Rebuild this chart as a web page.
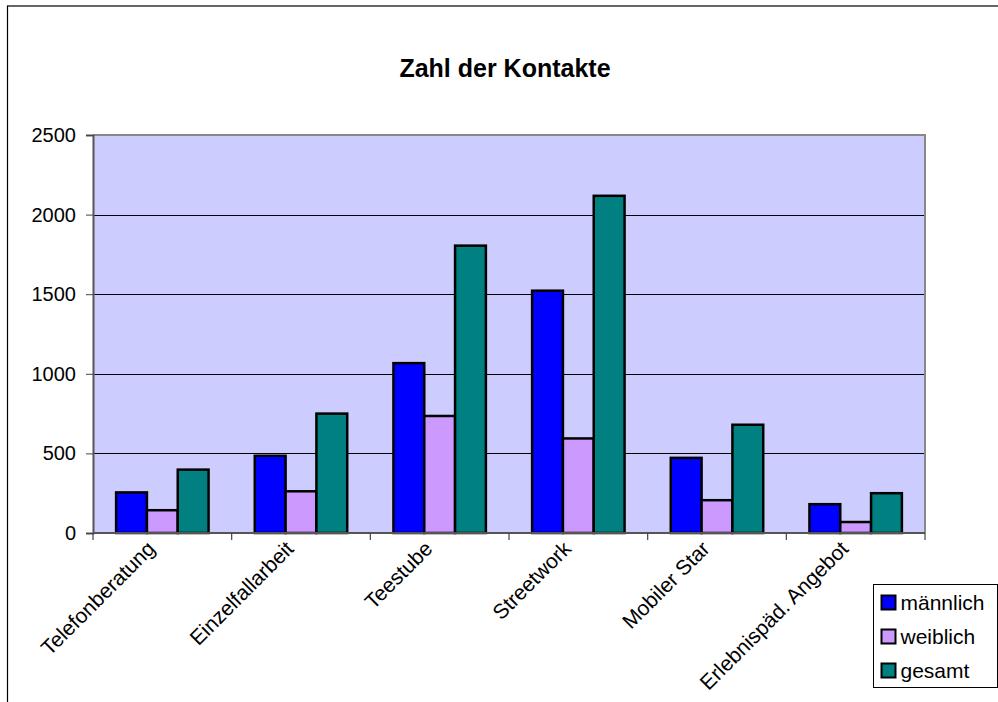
<!DOCTYPE html>
<html>
<head>
<meta charset="utf-8">
<script src="https://cdn.jsdelivr.net/npm/d3@7"></script>
<style>
  html, body { margin: 0; padding: 0; background: #fff; }
  svg { display: block; font-family: "Liberation Sans", Arial, sans-serif; }
</style>
</head>
<body>
<div id="chart"></div>
<script>
const width = 998;
const height = 702;

const categories = [
  "Telefonberatung",
  "Einzelfallarbeit",
  "Teestube",
  "Streetwork",
  "Mobiler Star",
  "Erlebnispäd. Angebot",
];
const seriesNames = ["männlich", "weiblich", "gesamt"];
const maennlich = [255, 485, 1067, 1522, 472, 181];
const weiblich = [143, 262, 735, 594, 206, 69];
const gesamt = [398, 750, 1805, 2118, 680, 250];
const yTicks = [0, 500, 1000, 1500, 2000, 2500];

const seriesValues = [maennlich, weiblich, gesamt];
const seriesColor = d3
  .scaleOrdinal()
  .domain(seriesNames)
  .range(["#0000ff", "#cc99ff", "#008080"]);

const plot = { left: 93, right: 925, top: 135, bottom: 533 };

const svg = d3
  .select("#chart")
  .append("svg")
  .attr("width", width)
  .attr("height", height);

// chart frame (runs off the right / bottom edge)
svg
  .append("rect")
  .attr("x", 7.5)
  .attr("y", 6)
  .attr("width", width + 20)
  .attr("height", height + 20)
  .attr("fill", "#fff")
  .attr("stroke", "#000")
  .attr("stroke-width", 1.2);

svg
  .append("text")
  .attr("x", 505)
  .attr("y", 77)
  .attr("text-anchor", "middle")
  .attr("font-size", 25)
  .attr("font-weight", "bold")
  .text("Zahl der Kontakte");

const x0 = d3
  .scaleBand()
  .domain(categories)
  .range([plot.left, plot.right])
  .padding(0);

const x1 = d3
  .scaleBand()
  .domain(seriesNames)
  .range([0, x0.bandwidth()])
  .paddingInner(0)
  .paddingOuter(0.75);

const y = d3
  .scaleLinear()
  .domain([0, 2500])
  .range([plot.bottom, plot.top]);

// plot background
svg
  .append("rect")
  .attr("x", plot.left)
  .attr("y", plot.top)
  .attr("width", plot.right - plot.left)
  .attr("height", plot.bottom - plot.top)
  .attr("fill", "#ccccff");

// gridlines
svg
  .append("g")
  .selectAll("line")
  .data(yTicks.filter((d) => d > 0 && d < 2500))
  .join("line")
  .attr("x1", plot.left)
  .attr("x2", plot.right)
  .attr("y1", (d) => Math.round(y(d)) + 0.5)
  .attr("y2", (d) => Math.round(y(d)) + 0.5)
  .attr("stroke", "#000")
  .attr("stroke-width", 1);

// plot border (top and right)
svg
  .append("path")
  .attr("d", `M${plot.left},${plot.top}H${plot.right}V${plot.bottom}`)
  .attr("fill", "none")
  .attr("stroke", "#888")
  .attr("stroke-width", 2);

// bars
const rows = categories.map((c, i) => ({
  category: c,
  values: seriesNames.map((s, j) => ({ series: s, value: seriesValues[j][i] })),
}));

svg
  .append("g")
  .selectAll("g")
  .data(rows)
  .join("g")
  .attr("transform", (d) => `translate(${x0(d.category)},0)`)
  .selectAll("rect")
  .data((d) => d.values)
  .join("rect")
  .attr("x", (d) => x1(d.series))
  .attr("y", (d) => y(d.value))
  .attr("width", x1.bandwidth())
  .attr("height", (d) => y(0) - y(d.value))
  .attr("fill", (d) => seriesColor(d.series))
  .attr("stroke", "#000")
  .attr("stroke-width", 2.5);

// y axis
const yAxis = svg
  .append("g")
  .attr("transform", `translate(${plot.left},0)`)
  .call(
    d3
      .axisLeft(y)
      .tickValues(yTicks)
      .tickSize(7)
      .tickPadding(10)
      .tickFormat(d3.format("d")),
  );
yAxis.select(".domain").attr("stroke", "#555").attr("stroke-width", 2);
yAxis.selectAll(".tick line").attr("stroke", "#444");
yAxis
  .selectAll(".tick text")
  .attr("font-size", 20)
  .attr("font-family", '"Liberation Sans", Arial, sans-serif')
  .attr("fill", "#000");

// x axis: ticks on category boundaries
const xAxis = svg.append("g");
xAxis
  .append("line")
  .attr("x1", plot.left)
  .attr("x2", plot.right)
  .attr("y1", plot.bottom)
  .attr("y2", plot.bottom)
  .attr("stroke", "#555")
  .attr("stroke-width", 2);
xAxis
  .selectAll("line.tick")
  .data(categories.concat([null]))
  .join("line")
  .attr("class", "tick")
  .attr("x1", (d) => (d ? x0(d) : plot.right))
  .attr("x2", (d) => (d ? x0(d) : plot.right))
  .attr("y1", plot.bottom)
  .attr("y2", plot.bottom + 7)
  .attr("stroke", "#444")
  .attr("stroke-width", 1.2);

xAxis
  .selectAll("text")
  .data(categories)
  .join("text")
  .attr(
    "transform",
    (d) => `translate(${x0(d) + x0.bandwidth() / 2 - 6},${plot.bottom + 17}) rotate(-45)`,
  )
  .attr("text-anchor", "end")
  .attr("font-size", 21)
  .text((d) => d);

// legend
const legend = svg.append("g").attr("transform", "translate(873.5,584.5)");
legend
  .append("rect")
  .attr("width", 124)
  .attr("height", 103)
  .attr("fill", "#fff")
  .attr("stroke", "#000")
  .attr("stroke-width", 1);

const legendItems = legend
  .selectAll("g")
  .data(seriesNames)
  .join("g")
  .attr("transform", (d, i) => `translate(8,${18 + i * 34})`);

legendItems
  .append("rect")
  .attr("x", 0)
  .attr("y", -7)
  .attr("width", 14)
  .attr("height", 14)
  .attr("fill", (d) => seriesColor(d))
  .attr("stroke", "#000")
  .attr("stroke-width", 2);

legendItems
  .append("text")
  .attr("x", 19)
  .attr("y", 7.5)
  .attr("font-size", 21)
  .text((d) => d);
</script>
</body>
</html>
